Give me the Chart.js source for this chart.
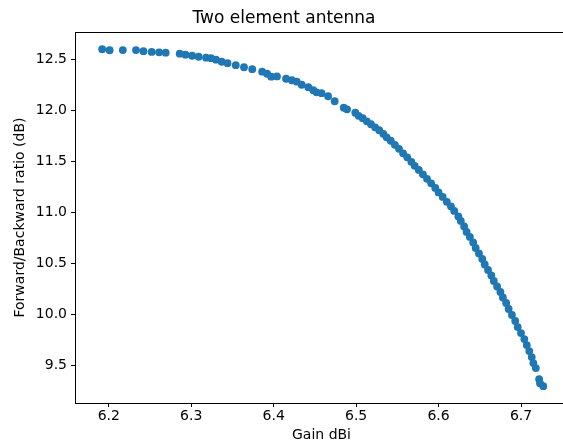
<!DOCTYPE html>
<html>
<head>
<meta charset="utf-8">
<script src="https://cdn.jsdelivr.net/npm/chart.js@4"></script>
<style>
  html, body { margin: 0; padding: 0; background: #fff; overflow: hidden; }
  #wrap { width: 580px; height: 444px; }
</style>
</head>
<body>
<div id="wrap"><canvas id="antennaCanvas" width="580" height="444"></canvas></div>
<script>
// Gain (dBi) and forward/backward ratio (dB)
const gain = [
  6.192, 6.201, 6.217, 6.233, 6.242, 6.252, 6.261, 6.269, 6.286, 6.293,
  6.301, 6.309, 6.318, 6.324, 6.330, 6.337, 6.344, 6.354, 6.364, 6.374,
  6.386, 6.392, 6.397, 6.404, 6.415, 6.422, 6.428, 6.434, 6.442, 6.448,
  6.452, 6.458, 6.466, 6.474, 6.485, 6.489, 6.499, 6.503, 6.508, 6.513,
  6.518, 6.523, 6.528, 6.533, 6.537, 6.542, 6.547, 6.552, 6.557, 6.562,
  6.567, 6.571, 6.576, 6.581, 6.586, 6.591, 6.596, 6.600, 6.605, 6.610,
  6.615, 6.619, 6.624, 6.627, 6.631, 6.634, 6.638, 6.642, 6.645, 6.649,
  6.653, 6.656, 6.660, 6.664, 6.667, 6.671, 6.675, 6.678, 6.682, 6.685,
  6.689, 6.693, 6.696, 6.700, 6.704, 6.707, 6.710, 6.713, 6.715, 6.718,
  6.722, 6.723, 6.727
];
const fbRatio = [
  12.603, 12.593, 12.595, 12.595, 12.584, 12.576, 12.572, 12.569, 12.559, 12.549,
  12.539, 12.529, 12.520, 12.515, 12.500, 12.480, 12.466, 12.446, 12.426, 12.407,
  12.382, 12.362, 12.333, 12.336, 12.313, 12.298, 12.284, 12.254, 12.230, 12.200,
  12.180, 12.171, 12.141, 12.092, 12.028, 12.013, 11.979, 11.949, 11.925, 11.895,
  11.866, 11.836, 11.807, 11.772, 11.738, 11.704, 11.664, 11.625, 11.581, 11.541,
  11.497, 11.458, 11.418, 11.374, 11.330, 11.286, 11.241, 11.197, 11.153, 11.104,
  11.060, 11.015, 10.961, 10.917, 10.863, 10.809, 10.760, 10.706, 10.651, 10.597,
  10.543, 10.489, 10.435, 10.381, 10.327, 10.273, 10.219, 10.165, 10.111, 10.052,
  9.993, 9.934, 9.875, 9.816, 9.757, 9.698, 9.639, 9.580, 9.521, 9.472,
  9.363, 9.324, 9.294
];
const xTicks = [6.2, 6.3, 6.4, 6.5, 6.6, 6.7];
const yTicks = [9.5, 10.0, 10.5, 11.0, 11.5, 12.0, 12.5];

const FONT = 'DejaVu Sans';

// draws the top spine of the axes box (right spine falls outside the window)
const frameTop = {
  id: 'frameTop',
  afterDraw(chart) {
    const { ctx, chartArea: a } = chart;
    ctx.save();
    ctx.strokeStyle = '#000';
    ctx.lineWidth = 1;
    ctx.beginPath();
    ctx.moveTo(a.left, a.top + 0.5);
    ctx.lineTo(a.right, a.top + 0.5);
    ctx.stroke();
    ctx.restore();
  },
};

const points = gain.map((g, i) => ({ x: g, y: fbRatio[i] }));

new Chart(document.getElementById('antennaCanvas'), {
  type: 'scatter',
  data: {
    datasets: [{
      data: points,
      backgroundColor: '#1f77b4',
      borderWidth: 0,
      pointRadius: 3.9,
      pointHoverRadius: 3.9,
    }],
  },
  options: {
    responsive: false,
    animation: false,
    layout: { padding: { left: 0, right: 12, top: 0, bottom: 0 } },
    plugins: {
      legend: { display: false },
      tooltip: { enabled: false },
      title: {
        display: true,
        text: 'Two element antenna',
        color: '#000',
        font: { family: FONT, size: 17, weight: 'normal' },
        padding: { top: 8, bottom: 3.6 },
      },
    },
    scales: {
      x: {
        type: 'linear',
        min: 6.159,
        max: 6.757,
        afterBuildTicks: (s) => { s.ticks = xTicks.map((v) => ({ value: v })); },
        afterFit: (s) => { s.height = 41; },
        border: { display: true, color: '#000', width: 1 },
        grid: { drawOnChartArea: false, drawTicks: true, tickLength: 4, color: '#000' },
        ticks: {
          color: '#000',
          padding: 1,
          font: { family: FONT, size: 14 },
          callback: (v) => v.toFixed(1),
        },
        title: {
          display: true,
          text: 'Gain dBi',
          color: '#000',
          font: { family: FONT, size: 14 },
          padding: { top: 0, bottom: 0 },
        },
      },
      y: {
        type: 'linear',
        min: 9.129,
        max: 12.772,
        afterBuildTicks: (s) => { s.ticks = yTicks.map((v) => ({ value: v })); },
        afterFit: (s) => { s.width = 75; },
        border: { display: true, color: '#000', width: 1 },
        grid: { drawOnChartArea: false, drawTicks: true, tickLength: 4, color: '#000' },
        ticks: {
          color: '#000',
          padding: 4,
          font: { family: FONT, size: 14 },
          callback: (v) => v.toFixed(1),
        },
        title: {
          display: true,
          text: 'Forward/Backward ratio (dB)',
          color: '#000',
          font: { family: FONT, size: 14 },
          padding: { top: 12, bottom: 0 },
        },
      },
    },
  },
  plugins: [frameTop],
});
</script>
</body>
</html>
